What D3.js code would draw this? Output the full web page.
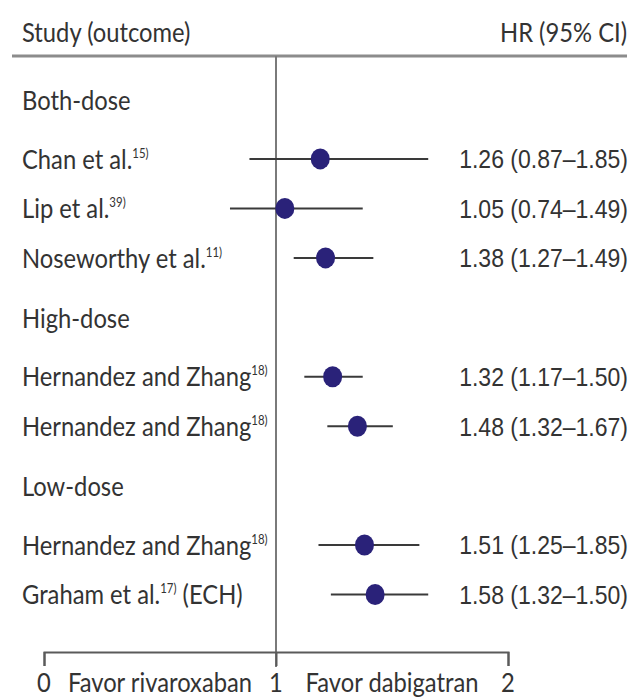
<!DOCTYPE html>
<html>
<head>
<meta charset="utf-8">
<script src="https://cdn.jsdelivr.net/npm/d3@7/dist/d3.min.js"></script>
<style>
  html, body { margin: 0; padding: 0; background: #ffffff; }
  svg { display: block; }
</style>
</head>
<body>
<script>
// ---------- data ----------
const groups = ["Both-dose", "High-dose", "Low-dose"];
const studies = ["Chan et al.", "Lip et al.", "Noseworthy et al.", "Hernandez and Zhang", "Hernandez and Zhang", "Hernandez and Zhang", "Graham et al."];
const refs = ["15)", "39)", "11)", "18)", "18)", "18)", "17)"];
const suffixes = ["", "", "", "", "", "", " (ECH)"];
const studyGroup = [0, 0, 0, 1, 1, 2, 2];
// plotted positions as drawn in the figure
const hr = [1.25, 1.05, 1.28, 1.32, 1.46, 1.50, 1.56];
const lower = [0.85, 0.74, 1.10, 1.16, 1.29, 1.24, 1.31];
const upper = [1.86, 1.49, 1.55, 1.49, 1.66, 1.81, 1.86];
const hrLabels = ["1.26 (0.87\u20131.85)", "1.05 (0.74\u20131.49)", "1.38 (1.27\u20131.49)", "1.32 (1.17\u20131.50)", "1.48 (1.32\u20131.67)", "1.51 (1.25\u20131.85)", "1.58 (1.32\u20131.50)"];
const axisTicks = [0, 1, 2];
const axisTickLabels = ["0", "1", "2"];
const favorLabels = ["Favor rivaroxaban", "Favor dabigatran"];
const favorAt = [0.5, 1.5];
const headerLeft = "Study (outcome)";
const headerRight = "HR (95% CI)";

// ---------- layout ----------
const W = 633, H = 700;
const svg = d3.select("body").append("svg").attr("width", W).attr("height", H);

const humanist = "Lato, 'Noto Sans', sans-serif";
const numeric = "'Liberation Sans', Arial, sans-serif";
const textColor = "#333333";
const fsMain = 27;
const sxMain = 0.88;
const sxNum = 0.885;

const x = d3.scaleLinear().domain([0, 2]).range([99, 453]);
const axisX = d3.scaleLinear().domain([0, 2]).range([44, 508]);
const y = d3.scaleLinear().domain([0, 1]).range([100, 149.5]);

// compute slot positions
const rows = [];
let pos = 0;
groups.forEach((g, gi) => {
  rows.push({type: "header", label: g, slot: pos});
  pos += 1.19;
  studies.forEach((s, i) => {
    if (studyGroup[i] === gi) {
      rows.push({type: "study", i: i, slot: pos});
      pos += 1;
    }
  });
  pos += 0.21;
});

function condensedText(sel, px, py, sx, anchor, family, size) {
  return sel.append("text")
    .attr("transform", `translate(${px},${py}) scale(${sx},1)`)
    .attr("text-anchor", anchor)
    .attr("dy", "0.36em")
    .attr("font-family", family)
    .attr("font-size", size)
    .attr("fill", textColor);
}

// header
condensedText(svg, 22, 32, sxMain, "start", humanist, fsMain).text(headerLeft);
condensedText(svg, 627, 32, sxMain, "end", humanist, fsMain).text(headerRight);

svg.append("line")
  .attr("x1", 12).attr("x2", 627).attr("y1", 56).attr("y2", 56)
  .attr("stroke", "#8c8c8c").attr("stroke-width", 3);

// reference line at HR = 1
svg.append("line")
  .attr("x1", x(1)).attr("x2", x(1)).attr("y1", 56).attr("y2", 667)
  .attr("stroke", "#7a7a7a").attr("stroke-width", 2);

// rows
rows.forEach(r => {
  const cy = y(r.slot);
  if (r.type === "header") {
    condensedText(svg, 22, cy, sxMain, "start", humanist, fsMain).text(r.label);
  } else {
    const i = r.i;
    const t = condensedText(svg, 22, cy, sxMain, "start", humanist, fsMain);
    t.append("tspan").text(studies[i]);
    t.append("tspan").attr("font-size", 13).attr("dy", -11).text(refs[i]);
    if (suffixes[i]) {
      t.append("tspan").attr("dy", 11).text(suffixes[i]);
    }
    condensedText(svg, 628, cy, sxNum, "end", numeric, 26).text(hrLabels[i]);
  }
});

const studyRows = rows.filter(r => r.type === "study");
svg.selectAll("line.ci").data(studyRows).join("line")
  .attr("class", "ci")
  .attr("x1", d => x(lower[d.i])).attr("x2", d => x(upper[d.i]))
  .attr("y1", d => y(d.slot)).attr("y2", d => y(d.slot))
  .attr("stroke", "#3a3a3a").attr("stroke-width", 2);

svg.selectAll("ellipse.pt").data(studyRows).join("ellipse")
  .attr("class", "pt")
  .attr("cx", d => x(hr[d.i])).attr("cy", d => y(d.slot))
  .attr("rx", 9.5).attr("ry", 10.5)
  .attr("fill", "#2a2279");

// bottom axis
const axisG = svg.append("g").attr("transform", "translate(0,652)")
  .call(d3.axisBottom(axisX).tickValues(axisTicks).tickSize(14).tickSizeOuter(14).tickFormat(""));
axisG.selectAll("path, line").attr("stroke", "#5a5a5a").attr("stroke-width", 2);

axisTicks.forEach((v, k) => {
  svg.append("text")
    .attr("transform", `translate(${axisX(v)},692) scale(${sxMain},1)`)
    .attr("text-anchor", "middle")
    .attr("font-family", humanist).attr("font-size", fsMain).attr("fill", textColor)
    .text(axisTickLabels[k]);
});
favorLabels.forEach((lab, k) => {
  svg.append("text")
    .attr("transform", `translate(${axisX(favorAt[k])},692) scale(${sxMain},1)`)
    .attr("text-anchor", "middle")
    .attr("font-family", humanist).attr("font-size", fsMain).attr("fill", textColor)
    .text(lab);
});
</script>
</body>
</html>
